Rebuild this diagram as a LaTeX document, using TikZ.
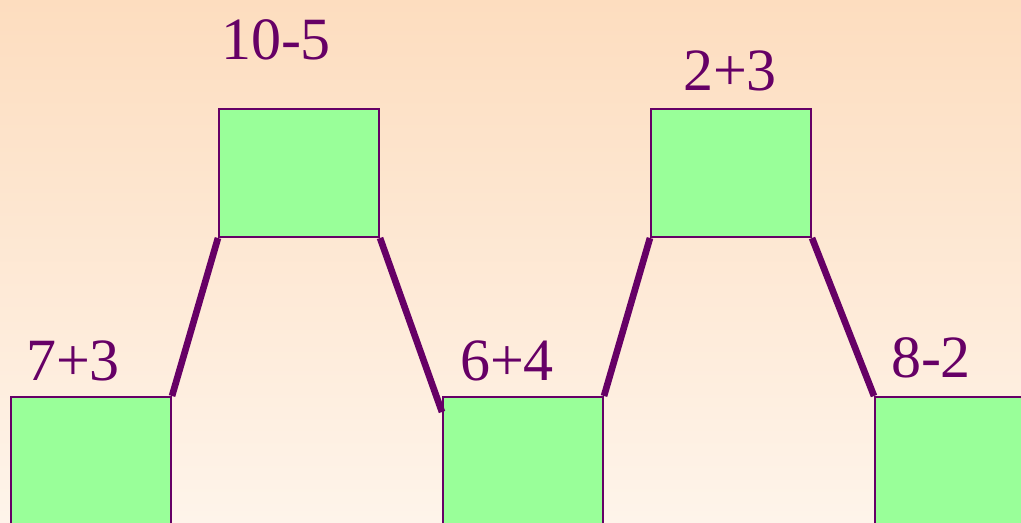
\documentclass[tikz,border=0pt]{standalone}
\usepackage{fontspec}
\setmainfont{Liberation Serif}
\usepackage{xcolor}
\usepackage{tikz}
\usetikzlibrary{positioning, calc}
\definecolor{sumplum}{HTML}{660066}
\definecolor{sumgreen}{HTML}{99FF99}
\definecolor{sumpeach}{HTML}{FDDDBF}
\definecolor{sumcream}{HTML}{FEF4EA}

\begin{document}
\begin{tikzpicture}[
    x=0.75pt, y=-0.75pt,
    font=\fontsize{45}{54}\selectfont,
    numbox/.style={draw=sumplum, line width=1.5pt, fill=sumgreen, anchor=north west,
      minimum width=120pt, minimum height=96pt, inner sep=0pt},
    sumlabel/.style={text=sumplum, anchor=base, inner sep=0pt},
    leg/.style={draw=sumplum, line width=5pt},
  ]
    \useasboundingbox (0,0) rectangle (1021,522);
    \shade[top color=sumpeach, bottom color=sumcream] (0,0) rectangle (1021,522);
    \begin{scope}
    \clip (0,0) rectangle (1021,522);
    % bottom row and top row
    \node[numbox] (a) at (10,396) {};
    \node[numbox] (b) at (218,108) {};
    \node[numbox] (c) at (442,396) {};
    \node[numbox] (d) at (650,108) {};
    \node[numbox] (e) at (874,396) {};
    \end{scope}
    \node[sumlabel] (la) at (73,380) {7+3};
    \node[sumlabel] (lb) at (276,59) {10-5};
    \node[sumlabel] (lc) at (507,380) {6+4};
    \node[sumlabel] (ld) at (730,90) {2+3};
    \node[sumlabel] (le) at (931,377) {8-2};
    \coordinate (cfoot) at ($(c.north west)+(0,16)$);
    \draw[leg] (a.north east) -- (b.south west);
    \draw[leg] (b.south east) -- (cfoot);
    \draw[leg] (c.north east) -- (d.south west);
    \draw[leg] (d.south east) -- (e.north west);
  \end{tikzpicture}
\end{document}
